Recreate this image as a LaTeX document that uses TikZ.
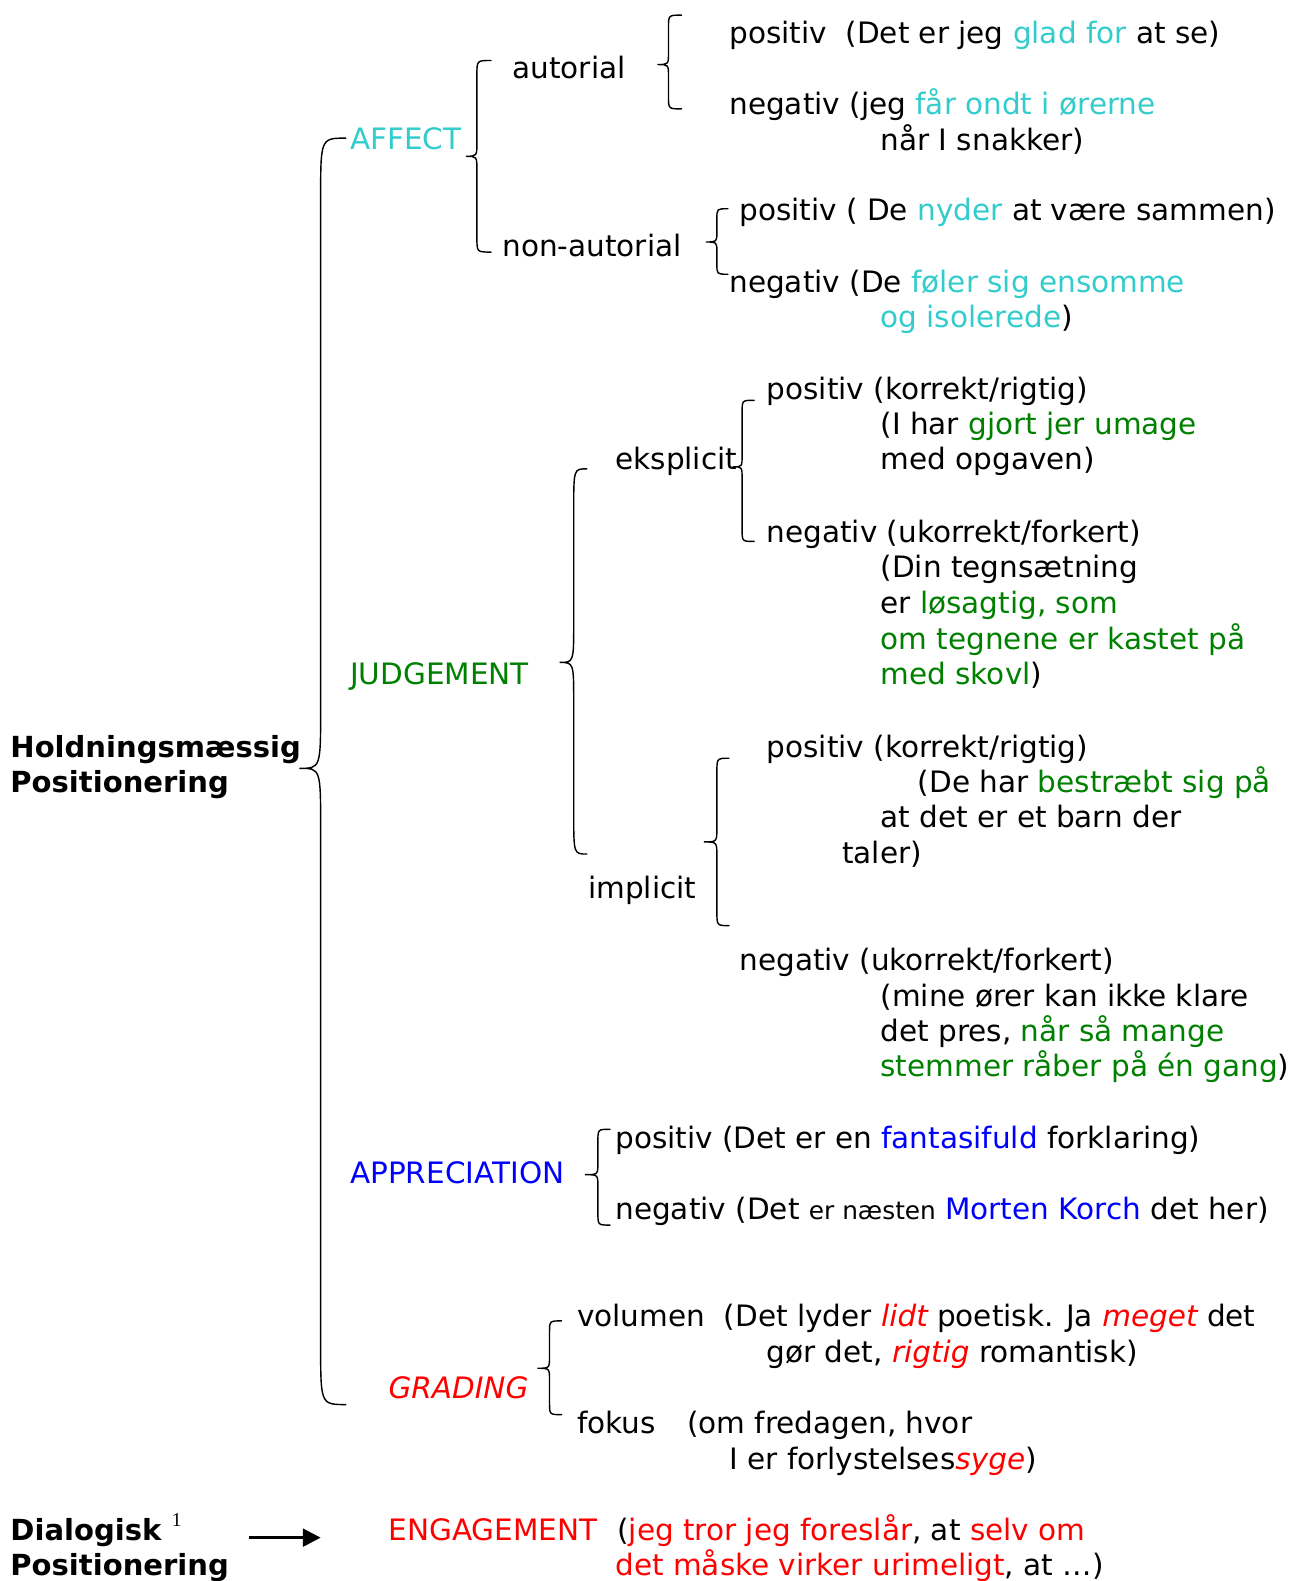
\documentclass[tikz,border=0pt]{standalone}
\usepackage{fontspec}
\usepackage{xcolor}
\setmainfont{DejaVu Sans}
\newfontfamily\tinyserif{Liberation Serif}
\usetikzlibrary{arrows.meta}

\definecolor{affectcol}{HTML}{33CCCC}
\definecolor{judgecol}{HTML}{008000}
\definecolor{apprcol}{HTML}{0000FF}
\definecolor{gradecol}{HTML}{FF0000}

\newcommand{\aff}[1]{\textcolor{affectcol}{#1}}
\newcommand{\jud}[1]{\textcolor{judgecol}{#1}}
\newcommand{\app}[1]{\textcolor{apprcol}{#1}}
\newcommand{\grd}[1]{\textcolor{gradecol}{#1}}
\newcommand{\grdit}[1]{\textcolor{gradecol}{\itshape #1}}

% curly brace: end x, spine x, tip x, top y, tip y, bottom y, radius
\newcommand{\tuborg}[7]{%
\draw[krolle] (#1,#4) .. controls (#2,#4) .. (#2,{#4+#7}) -- (#2,{#5-#7})
  .. controls (#2,#5) .. (#3,#5) .. controls (#2,#5) .. (#2,{#5+#7})
  -- (#2,{#6-#7}) .. controls (#2,#6) .. (#1,#6);}

\begin{document}
\begin{tikzpicture}[x=0.02cm, y=-0.02cm,
  font=\fontsize{16.65}{20}\selectfont,
  txt/.style={anchor=base west, inner sep=0pt, yshift=-0.04cm},
  fed/.style={txt, font=\fontsize{16.4}{20}\selectfont\bfseries},
  krolle/.style={line width=0.8pt, line cap=round}]
\useasboundingbox (0,0) rectangle (1278,1568);

% root
\node[fed] (hold1) at (10,749) {Holdningsmæssig};
\node[fed] (hold2) at (10,784) {Positionering};
\tuborg{343}{318}{297}{137}{762}{1393}{60}

% affect
\node[txt] (affect) at (347,146) {\aff{AFFECT}};
\tuborg{487}{473}{462}{60}{155}{250}{14}
\node[txt] (autorial) at (508,76) {autorial};
\tuborg{676}{663}{652}{15}{64}{108}{12}
\node[txt] (autpos) at (723,41) {positiv\ \ (Det er jeg \aff{glad for} at se)};
\node[txt] (autneg1) at (723,112) {negativ (jeg \aff{får ondt i ørerne}};
\node[txt] (autneg2) at (873,147) {når I snakker)};
\node[txt] (nonaut) at (498,252) {non-autorial};
\tuborg{722}{711}{700}{207}{240}{272}{10}
\node[txt] (nonpos) at (733,217) {positiv ( De \aff{nyder} at være sammen)};
\node[txt] (nonneg1) at (723,288) {negativ (De \aff{føler sig ensomme}};
\node[txt] (nonneg2) at (873,323) {\aff{og isolerede})};

% judgement
\node[txt] (judge) at (347,677) {\jud{JUDGEMENT}};
\tuborg{582}{569}{555}{465}{657}{847}{40}
\node[txt] (ekspl) at (610,464) {eksplicit};
\tuborg{748}{736}{727}{397}{463}{537}{12}
\node[txt] (ekspos1) at (760,394) {positiv (korrekt/rigtig)};
\node[txt] (ekspos2) at (873,429) {(I har \jud{gjort jer umage}};
\node[txt] (ekspos3) at (873,464) {med opgaven)};
\node[txt] (eksneg1) at (760,536) {negativ (ukorrekt/forkert)};
\node[txt] (eksneg2) at (873,571) {(Din tegnsætning};
\node[txt] (eksneg3) at (873,606) {er \jud{løsagtig, som}};
\node[txt] (eksneg4) at (873,642) {\jud{om tegnene er kastet på}};
\node[txt] (eksneg5) at (873,677) {\jud{med skovl})};
\node[txt] (impl) at (583,889) {implicit};
\tuborg{723}{711}{698}{752}{835}{918}{14}
\node[txt] (imppos1) at (760,749) {positiv (korrekt/rigtig)};
\node[txt] (imppos2) at (910,784) {(De har \jud{bestræbt sig på}};
\node[txt] (imppos3) at (873,819) {at det er et barn der};
\node[txt] (imppos4) at (835,854) {taler)};
\node[txt] (impneg1) at (733,961) {negativ (ukorrekt/forkert)};
\node[txt] (impneg2) at (873,996) {(mine ører kan ikke klare};
\node[txt] (impneg3) at (873,1031) {det pres, \jud{når så mange}};
\node[txt] (impneg4) at (873,1066) {\jud{stemmer råber på én gang})};

% appreciation
\node[txt] (appr) at (347,1172) {\app{APPRECIATION}};
\tuborg{605}{593}{580}{1120}{1165}{1215}{12}
\node[txt] (apppos) at (610,1137) {positiv (Det er en \app{fantasifuld} forklaring)};
\node[txt] (appneg) at (610,1207) {negativ (Det {\fontsize{14}{16}\selectfont er næsten} \app{Morten Korch} det her)};

% grading
\node[txt] (grading) at (385,1385) {\grdit{GRADING}};
\tuborg{557}{545}{533}{1310}{1357}{1403}{12}
\node[txt] (vol1) at (572,1314) {volumen\ \ (Det lyder \grdit{lidt} poetisk. Ja \grdit{meget} det};
\node[txt] (vol2) at (760,1349) {gør det, \grdit{rigtig} romantisk)};
\node[txt] (fok1) at (572,1420) {fokus\hspace{0.62cm}(om fredagen, hvor};
\node[txt] (fok2) at (723,1455) {I er forlystelses\grdit{syge})};

% dialogisk
\node[fed] (dial1) at (10,1526) {Dialogisk};
\node[txt] (fodn) at (170,1512) {\tinyserif\fontsize{11}{12}\selectfont 1};
\node[fed] (dial2) at (10,1561) {Positionering};
\node[txt] (engage) at (385,1526) {\grd{ENGAGEMENT}};
\node[txt] (eng1) at (612,1526) {(\grd{jeg tror jeg foreslår}, at \grd{selv om}};
\node[txt] (eng2) at (610,1561) {\grd{det måske virker urimeligt}, at …)};
\coordinate (pilfra) at (247,1525);
\coordinate (piltil) at (318,1525);
\draw[line width=1.6pt, -{Triangle[length=10pt, width=10pt]}] (pilfra) -- (piltil);
\end{tikzpicture}
\end{document}
